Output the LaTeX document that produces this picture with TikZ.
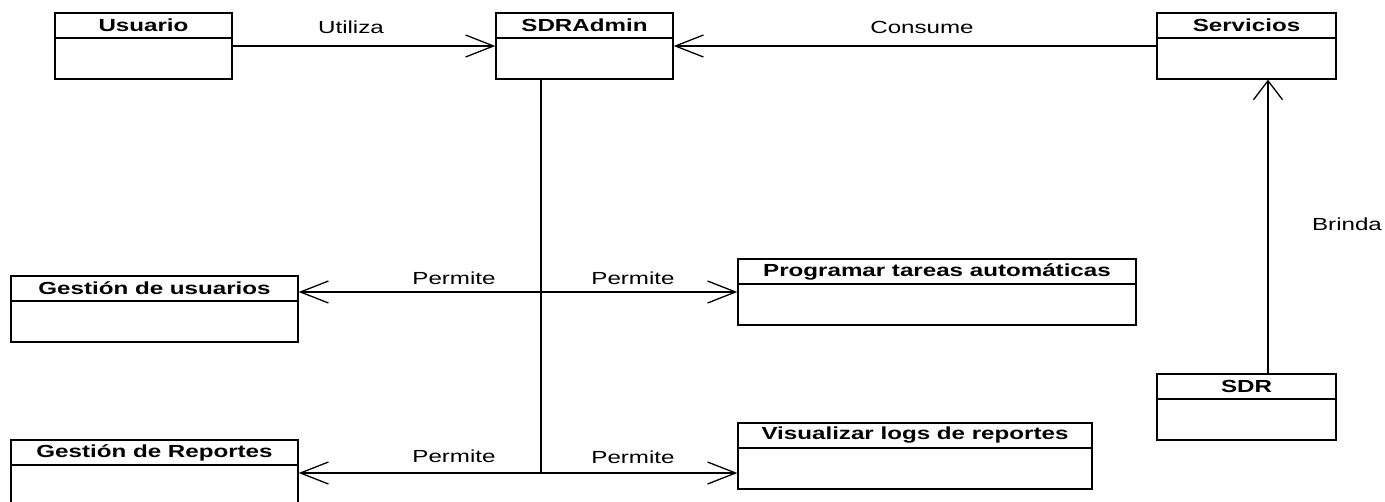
\documentclass[tikz,border=0pt]{standalone}
\usepackage{fontspec}
\setmainfont{Liberation Sans}
\usepackage{graphicx}
\usetikzlibrary{arrows.meta}
\newcommand{\hx}[1]{\scalebox{1.38}[1]{#1}}
\tikzset{
  cls/.style={draw, line width=1.3pt, minimum width=#1, minimum height=66pt, inner sep=0pt},
  clshead/.style={draw, line width=1.3pt, minimum width=#1, minimum height=25pt, inner sep=0pt, anchor=north, font=\fontsize{17.5}{19}\selectfont\bfseries},
  rel/.style={line width=1.3pt},
  hbarb/.style={-{Straight Barb[length=28pt, width=22pt]}},
  vbarb/.style={-{Straight Barb[length=19pt, width=29pt]}},
  lbl/.style={inner sep=0pt, xscale=1.38, font=\fontsize{17.5}{19}\selectfont}
}
\begin{document}
\begin{tikzpicture}[x=1pt,y=-1pt]
\useasboundingbox (0,0) rectangle (1385,501);
\node [cls=177pt] (usr) at (143.5,46) {};
\node [clshead=177pt] (usrt) at (usr.north) {\hx{Usuario}};
\node [cls=177pt] (adm) at (584.5,46) {};
\node [clshead=177pt] (admt) at (adm.north) {\hx{SDRAdmin}};
\node [cls=179pt] (srv) at (1246.5,46) {};
\node [clshead=179pt] (srvt) at (srv.north) {\hx{Servicios}};
\node [cls=287pt] (gu) at (154.5,309) {};
\node [clshead=287pt] (gut) at (gu.north) {\hx{Gestión de usuarios}};
\node [cls=398pt] (prg) at (937,292) {};
\node [clshead=398pt] (prgt) at (prg.north) {\hx{Programar tareas automáticas}};
\node [cls=287pt] (rep) at (154.5,473) {};
\node [clshead=287pt] (rept) at (rep.north) {\hx{Gestión de Reportes}};
\node [cls=354pt] (vis) at (915,456) {};
\node [clshead=354pt] (vist) at (vis.north) {\hx{Visualizar logs de reportes}};
\node [cls=179pt] (sdr) at (1246.5,407) {};
\node [clshead=179pt] (sdrt) at (sdr.north) {\hx{SDR}};
\coordinate (ja) at ([xshift=-43.5pt]adm.south |- prg.west);
\coordinate (jb) at ([xshift=-43.5pt]adm.south |- rep.east);
\draw [rel, hbarb] (usr.east) -- (adm.west);
\draw [rel, hbarb] (srv.west) -- (adm.east);
\draw [rel, vbarb] ([xshift=21.5pt]sdr.north) -- ([xshift=21.5pt]srv.south);
\draw [rel] ([xshift=-43.5pt]adm.south) -- (jb);
\draw [rel, hbarb] (ja) -- (gu.east |- ja);
\draw [rel, hbarb] (ja) -- (prg.west);
\draw [rel, hbarb] (jb) -- (rep.east);
\draw [rel, hbarb] (jb) -- (vis.west |- jb);
\node [lbl] (utiliza) at (351,27) {Utiliza};
\node [lbl] (consume) at (922,27) {Consume};
\node [lbl] (brinda) at (1347,224) {Brinda};
\node [lbl] (pgu) at (454,278) {Permite};
\node [lbl] (pprg) at (633,278) {Permite};
\node [lbl] (prep) at (454,456) {Permite};
\node [lbl] (pvis) at (633,457) {Permite};
\end{tikzpicture}
\end{document}
